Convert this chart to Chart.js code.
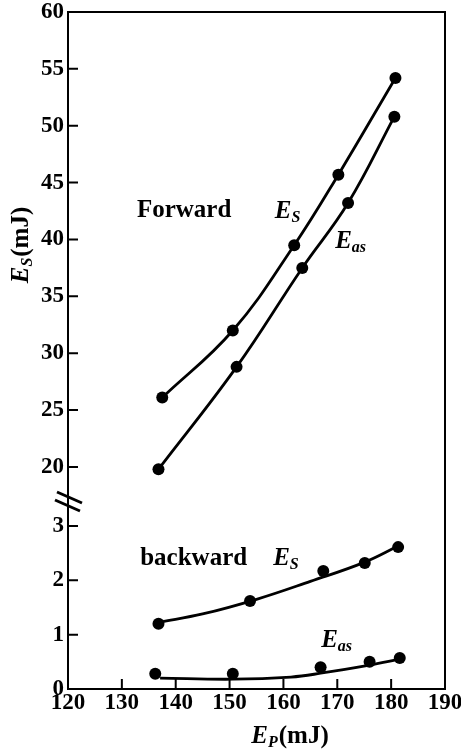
<!DOCTYPE html>
<html>
<head>
<meta charset="utf-8">
<script src="https://cdn.jsdelivr.net/npm/chart.js@4"></script>
<style>
  body { margin: 0; background: #fff; }
</style>
</head>
<body>
<canvas id="esChart" width="461" height="753"></canvas>
<script>
// Forward signal, E_S vs pump E_P
const fwdEsEp = [137.5, 150.6, 162.0, 170.2, 180.8];
const fwdEs = [26.1, 32.0, 39.5, 45.7, 54.2];
// Forward anti-Stokes
const fwdEasEp = [136.8, 151.3, 163.5, 172.0, 180.6];
const fwdEas = [19.8, 28.8, 37.5, 43.2, 50.8];
// Backward signal (points and the drawn fit curve)
const bwdEsEp = [136.8, 153.8, 167.4, 175.1, 181.3];
const bwdEs = [1.2, 1.62, 2.17, 2.32, 2.61];
const bwdEsFitEp = [137.0, 145.0, 155.0, 165.0, 175.0, 181.3];
const bwdEsFit = [1.23, 1.38, 1.65, 1.98, 2.33, 2.63];
// Backward anti-Stokes (points and the drawn fit curve)
const bwdEasEp = [136.2, 150.6, 166.9, 176.0, 181.6];
const bwdEas = [0.28, 0.28, 0.40, 0.50, 0.57];
const bwdEasFitEp = [137.1, 150.6, 161.4, 166.9, 176.0, 181.6];
const bwdEasFit = [0.2, 0.18, 0.22, 0.29, 0.44, 0.55];

const xTicks = [120, 130, 140, 150, 160, 170, 180, 190];
const highTicks = [20, 25, 30, 35, 40, 45, 50, 55, 60];
const lowTicks = [0, 1, 2, 3];

const SERIF = '"Liberation Serif", "Times New Roman", serif';
const tickFont = { family: SERIF, size: 23, weight: 'bold', lineHeight: 1 };

function pts(xs, ys) {
    return xs.map((x, i) => ({ x: x, y: ys[i] }));
}

function curve(xs, ys, axis, showPoints, showLine) {
    return {
        data: pts(xs, ys),
        yAxisID: axis,
        borderColor: '#000',
        backgroundColor: '#000',
        borderWidth: 2.8,
        tension: 0.4,
        showLine: showLine,
        pointRadius: showPoints ? 6 : 0,
        pointBorderWidth: 0,
        pointBackgroundColor: '#000',
        fill: false
    };
}

// E with a subscript, then optional plain text
function drawSub(ctx, x, y, main, sub, rest, size) {
    ctx.font = 'italic bold ' + size + 'px ' + SERIF;
    ctx.fillText(main, x, y);
    let w = ctx.measureText(main).width;
    ctx.font = 'italic bold ' + Math.round(size * 0.62) + 'px ' + SERIF;
    ctx.fillText(sub, x + w, y + 4);
    w += ctx.measureText(sub).width;
    if (rest) {
        ctx.font = 'bold ' + size + 'px ' + SERIF;
        ctx.fillText(rest, x + w + 1, y);
        w += ctx.measureText(rest).width + 1;
    }
    return w;
}

function subWidth(ctx, main, sub, rest, size) {
    ctx.font = 'italic bold ' + size + 'px ' + SERIF;
    let w = ctx.measureText(main).width;
    ctx.font = 'italic bold ' + Math.round(size * 0.62) + 'px ' + SERIF;
    w += ctx.measureText(sub).width;
    ctx.font = 'bold ' + size + 'px ' + SERIF;
    return w + ctx.measureText(rest).width + 1;
}

const overlay = {
    id: 'overlay',
    afterDraw(chart) {
        const { ctx, chartArea: a, scales } = chart;
        const xs = scales.x, hi = scales.yHigh, lo = scales.yLow;
        ctx.save();
        ctx.strokeStyle = '#000';
        ctx.fillStyle = '#000';
        ctx.lineWidth = 2;
        ctx.strokeRect(a.left, a.top, a.right - a.left, a.bottom - a.top);

        // tick marks pointing into the plot
        ctx.beginPath();
        xTicks.slice(1, -1).forEach(v => {
            const p = xs.getPixelForValue(v);
            ctx.moveTo(p, a.bottom);
            ctx.lineTo(p, a.bottom - 10);
        });
        highTicks.slice(0, -1).forEach(v => {
            const p = hi.getPixelForValue(v);
            ctx.moveTo(a.left, p);
            ctx.lineTo(a.left + 10, p);
        });
        lowTicks.slice(1).forEach(v => {
            const p = lo.getPixelForValue(v);
            ctx.moveTo(a.left, p);
            ctx.lineTo(a.left + 10, p);
        });
        ctx.stroke();

        // axis break
        const b = hi.bottom;
        ctx.lineWidth = 3;
        ctx.beginPath();
        ctx.moveTo(a.left - 11, b - 10);
        ctx.lineTo(a.left + 14, b + 1);
        ctx.moveTo(a.left - 13, b - 2);
        ctx.lineTo(a.left + 12, b + 9);
        ctx.stroke();

        // curve labels
        ctx.textAlign = 'left';
        ctx.textBaseline = 'alphabetic';
        ctx.font = 'bold 25px ' + SERIF;
        ctx.fillText('Forward', xs.getPixelForValue(132.8), hi.getPixelForValue(42.0));
        drawSub(ctx, xs.getPixelForValue(158.4), hi.getPixelForValue(41.9), 'E', 'S', '', 25);
        drawSub(ctx, xs.getPixelForValue(169.6), hi.getPixelForValue(39.25), 'E', 'as', '', 25);
        ctx.font = 'bold 25px ' + SERIF;
        ctx.fillText('backward', xs.getPixelForValue(133.4), lo.getPixelForValue(2.28));
        drawSub(ctx, xs.getPixelForValue(158.1), lo.getPixelForValue(2.28), 'E', 'S', '', 25);
        drawSub(ctx, xs.getPixelForValue(167.0), lo.getPixelForValue(0.77), 'E', 'as', '', 25);

        // axis titles
        const xw = subWidth(ctx, 'E', 'P', '(mJ)', 25);
        drawSub(ctx, 290 - xw / 2, 743, 'E', 'P', '(mJ)', 25);

        const yw = subWidth(ctx, 'E', 'S', '(mJ)', 25);
        ctx.translate(28, 245);
        ctx.rotate(-Math.PI / 2);
        drawSub(ctx, -yw / 2, 0, 'E', 'S', '(mJ)', 25);
        ctx.restore();
    }
};

const ctx = document.getElementById('esChart').getContext('2d');

new Chart(ctx, {
    type: 'line',
    data: {
        datasets: [
            curve(fwdEsEp, fwdEs, 'yHigh', true, true),
            curve(fwdEasEp, fwdEas, 'yHigh', true, true),
            curve(bwdEsEp, bwdEs, 'yLow', true, false),
            curve(bwdEsFitEp, bwdEsFit, 'yLow', false, true),
            curve(bwdEasEp, bwdEas, 'yLow', true, false),
            curve(bwdEasFitEp, bwdEasFit, 'yLow', false, true)
        ]
    },
    options: {
        responsive: false,
        animation: false,
        layout: { padding: { top: 12, right: 16, left: 0, bottom: 0 } },
        plugins: {
            legend: { display: false },
            tooltip: { enabled: false }
        },
        scales: {
            x: {
                type: 'linear',
                min: 120,
                max: 190,
                grid: { display: false, drawTicks: false },
                border: { display: true, color: '#000', width: 2 },
                ticks: { color: '#000', font: tickFont, padding: 3 },
                afterBuildTicks: s => { s.ticks = xTicks.map(v => ({ value: v })); },
                afterFit: s => { s.height = 64; s.paddingLeft = 0; s.paddingRight = 0; }
            },
            yLow: {
                type: 'linear',
                position: 'left',
                stack: 'ep',
                stackWeight: 187,
                min: 0,
                max: 3.44,
                grid: { display: false, drawTicks: false },
                border: { display: true, color: '#000', width: 2 },
                ticks: { color: '#000', font: tickFont, padding: 4 },
                afterBuildTicks: s => { s.ticks = lowTicks.map(v => ({ value: v })); },
                afterFit: s => { s.width = 68; s.paddingTop = 0; s.paddingBottom = 0; }
            },
            yHigh: {
                type: 'linear',
                position: 'left',
                stack: 'ep',
                stackWeight: 490,
                min: 16.92,
                max: 60,
                grid: { display: false, drawTicks: false },
                border: { display: true, color: '#000', width: 2 },
                ticks: { color: '#000', font: tickFont, padding: 4 },
                afterBuildTicks: s => { s.ticks = highTicks.map(v => ({ value: v })); },
                afterFit: s => { s.width = 68; s.paddingTop = 0; s.paddingBottom = 0; }
            }
        }
    },
    plugins: [overlay]
});
</script>
</body>
</html>
